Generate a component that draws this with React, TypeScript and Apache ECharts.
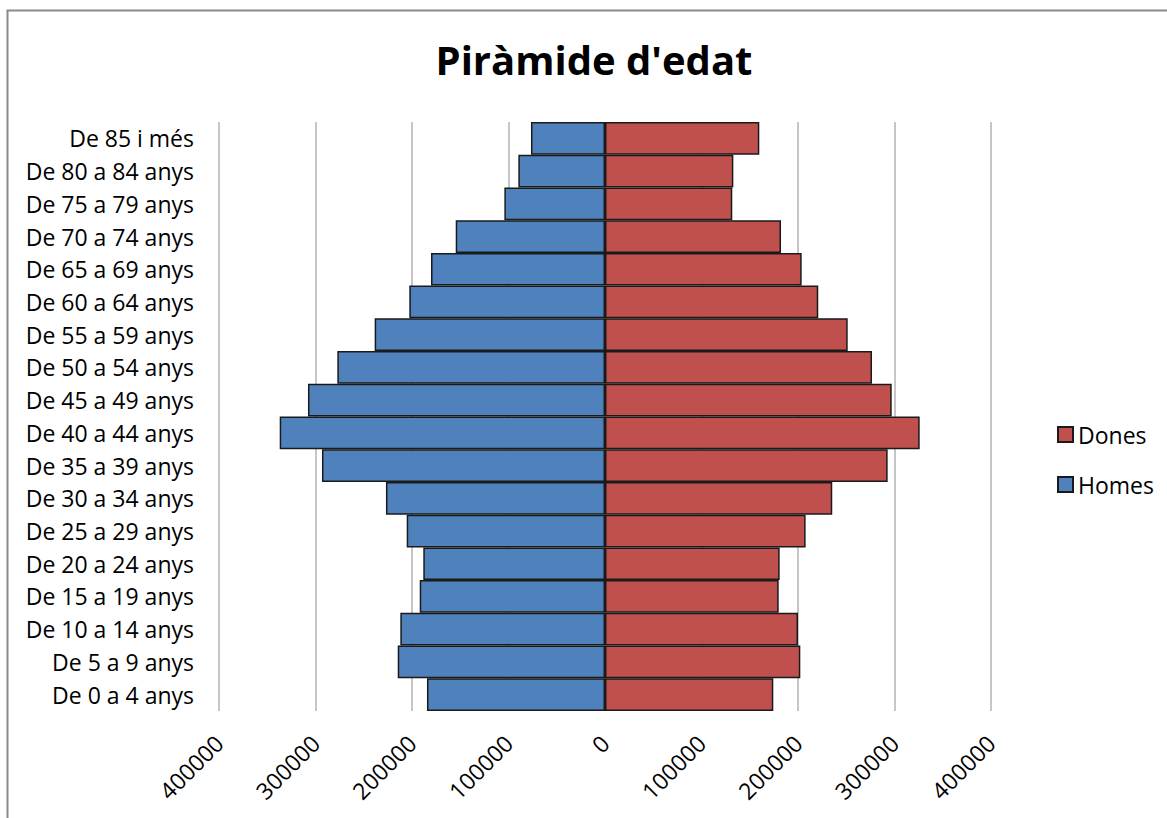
import React, { useEffect, useRef } from "react";
import * as echarts from "echarts";

const categories = [
  "De 0 a 4 anys",
  "De 5 a 9 anys",
  "De 10 a 14 anys",
  "De 15 a 19 anys",
  "De 20 a 24 anys",
  "De 25 a 29 anys",
  "De 30 a 34 anys",
  "De 35 a 39 anys",
  "De 40 a 44 anys",
  "De 45 a 49 anys",
  "De 50 a 54 anys",
  "De 55 a 59 anys",
  "De 60 a 64 anys",
  "De 65 a 69 anys",
  "De 70 a 74 anys",
  "De 75 a 79 anys",
  "De 80 a 84 anys",
  "De 85 i més",
];

const homes = [
  184500, 214800, 212100, 192000, 188300, 205500, 227000, 293300, 337100,
  307800, 277400, 238700, 202800, 180300, 154700, 104300, 89800, 76700,
];

const dones = [
  174400, 202400, 200000, 180000, 181000, 207900, 235500, 292900, 326100,
  297100, 276700, 251500, 221000, 203800, 182400, 131900, 133000, 159900,
];

const xTicks = { min: -400000, max: 400000, interval: 100000 };

const FONT = "'Open Sans', 'Noto Sans', sans-serif";

export default function App() {
  const ref = useRef<HTMLDivElement>(null);

  useEffect(() => {
    if (!ref.current) return;
    const chart = echarts.init(ref.current, null, { renderer: "svg" });
    chart.setOption({
      animation: false,
      backgroundColor: "#ffffff",
      textStyle: { fontFamily: FONT },
      title: {
        text: "Piràmide d'edat",
        left: 594,
        textAlign: "center",
        top: 39,
        padding: 0,
        textStyle: {
          fontFamily: FONT,
          fontSize: 40,
          fontWeight: "bold",
          color: "#000000",
        },
      },
      graphic: [
        {
          type: "rect",
          shape: { x: 7.5, y: 10.5, width: 3000, height: 3000 },
          style: { fill: "none", stroke: "#8a8a8a", lineWidth: 2 },
          silent: true,
          z: -1,
        },
      ],
      legend: {
        orient: "vertical",
        left: 1057,
        top: 423,
        padding: 0,
        itemWidth: 15,
        itemHeight: 15,
        itemGap: 27,
        icon: "rect",
        data: ["Dones", "Homes"],
        textStyle: { fontFamily: FONT, fontSize: 23, color: "#000000" },
      },
      grid: { left: 219, right: 176, top: 122, bottom: 107, containLabel: false },
      xAxis: {
        type: "value",
        min: xTicks.min,
        max: xTicks.max,
        interval: xTicks.interval,
        axisLine: { show: false },
        axisTick: { show: false },
        axisLabel: {
          rotate: 45,
          margin: 28,
          fontFamily: FONT,
          fontSize: 23,
          color: "#000000",
          formatter: (v: number) => String(Math.abs(v)),
        },
        splitLine: { show: true, lineStyle: { color: "#b3b3b3", width: 1.5 } },
      },
      yAxis: {
        type: "category",
        data: categories,
        axisLine: { show: false },
        axisTick: { show: false },
        axisLabel: {
          margin: 25,
          fontFamily: FONT,
          fontSize: 23,
          color: "#000000",
        },
        splitLine: { show: false },
      },
      series: [
        {
          name: "Homes",
          type: "bar",
          data: homes.map((v) => -v),
          barCategoryGap: 0,
          barGap: "-100%",
          itemStyle: { color: "#4f81bd", borderColor: "#1a1a1a", borderWidth: 1.5 },
        },
        {
          name: "Dones",
          type: "bar",
          data: dones,
          barCategoryGap: 0,
          barGap: "-100%",
          itemStyle: { color: "#c0504d", borderColor: "#1a1a1a", borderWidth: 1.5 },
        },
      ],
    });
    return () => chart.dispose();
  }, []);

  return (
    <div
      ref={ref}
      style={{ position: "absolute", left: 0, top: 0, width: 1167, height: 818 }}
    />
  );
}
